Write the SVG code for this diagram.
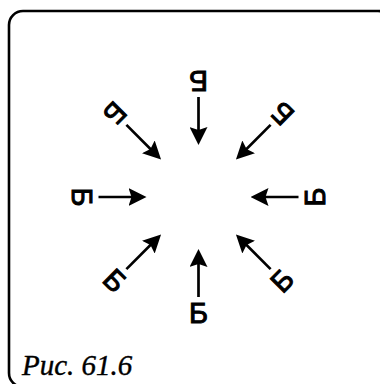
<svg xmlns="http://www.w3.org/2000/svg" width="380" height="384" viewBox="0 0 380 384">
<style>
.frame{fill:#fff;stroke:#000;stroke-width:2.6}
.lbl{font-family:"Liberation Sans",Arial,sans-serif;font-size:29px;font-weight:normal;fill:#000;stroke:#000;stroke-width:1;text-anchor:middle}
.cap{font-family:"Liberation Serif","Times New Roman",serif;font-size:29px;font-style:italic;fill:#000;stroke:#000;stroke-width:0.4}
.ar{stroke:#000;stroke-width:2.7;fill:none;marker-end:url(#head)}
</style>
<defs>
<marker id="head" markerUnits="userSpaceOnUse" markerWidth="18" markerHeight="18" viewBox="0 0 18 18" refX="9" refY="9" orient="auto">
<path d="M0,0 L18,9 L0,18 L3,9 Z" fill="#000"/>
</marker>
</defs>
<rect class="frame" x="9" y="11" width="383" height="376" rx="14"/>
<g id="connectors">
<line class="ar" x1="198.5" y1="97" x2="198.5" y2="136"/>
<line class="ar" x1="198.5" y1="297" x2="198.5" y2="258"/>
<line class="ar" x1="98.5" y1="197" x2="137.5" y2="197"/>
<line class="ar" x1="298.5" y1="197" x2="259.5" y2="197"/>
<line class="ar" x1="126.4" y1="124.9" x2="154.7" y2="153.2"/>
<line class="ar" x1="270.6" y1="124.9" x2="242.3" y2="153.2"/>
<line class="ar" x1="126.4" y1="269.1" x2="154.7" y2="240.8"/>
<line class="ar" x1="270.6" y1="269.1" x2="242.3" y2="240.8"/>
</g>
<g id="n-bottom" transform="translate(198.5,313) rotate(0)"><text class="lbl" x="0" y="10.4">Б</text></g>
<g id="n-top" transform="translate(198.5,81) rotate(180)"><text class="lbl" x="0" y="10.4">Б</text></g>
<g id="n-left" transform="translate(82.5,197) rotate(90)"><text class="lbl" x="0" y="10.4">Б</text></g>
<g id="n-right" transform="translate(314.5,197) rotate(-90)"><text class="lbl" x="0" y="10.4">Б</text></g>
<g id="n-topleft" transform="translate(115.1,113.6) rotate(135)"><text class="lbl" x="0" y="10.4">Б</text></g>
<g id="n-topright" transform="translate(281.9,113.6) rotate(-135)"><text class="lbl" x="0" y="10.4">Б</text></g>
<g id="n-bottomleft" transform="translate(115.1,280.4) rotate(45)"><text class="lbl" x="0" y="10.4">Б</text></g>
<g id="n-bottomright" transform="translate(281.9,280.4) rotate(-45)"><text class="lbl" x="0" y="10.4">Б</text></g>
<text class="cap" x="22" y="375">Рис. 61.6</text>
</svg>
